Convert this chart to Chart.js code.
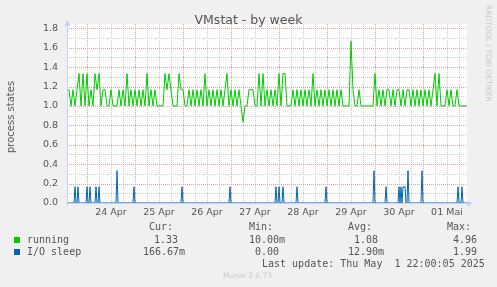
<!DOCTYPE html>
<html lang="de">
<head>
<meta charset="UTF-8" />
<title>VMstat - by week</title>
<script src="https://cdn.jsdelivr.net/npm/chart.js@4.4.1/dist/chart.umd.min.js"></script>
<style>
	body { margin:0; background:#f0f0f0; }
	#wrap { position:relative; width:497px; height:287px; overflow:hidden; }
	#wrap canvas { position:absolute; left:0; top:0; }
	.t { position:absolute; white-space:pre; color:#555555; font-family:'DejaVu Sans'; }
	.m { font-family:'DejaVu Sans Mono'; font-size:10px; line-height:12px; }
	.sq { position:absolute; width:6px; height:6px; }
</style>
</head>
<body>
<div id="wrap">
	<canvas id="vmstat" width="497" height="287"></canvas>
	<div class="t" style="left:0;top:12px;width:497px;text-align:center;font-size:12.5px;line-height:15px;">VMstat - by week</div>
	<div class="t" style="left:11px;top:117px;font-size:10px;line-height:12px;transform:translate(-50%,-50%) rotate(-90deg);">process states</div>
	<div class="t" style="left:484px;top:5px;font-size:7.5px;line-height:9px;color:#c8c8c8;writing-mode:vertical-rl;">RRDTOOL / TOBI OETIKER</div>

	<div class="t m" style="left:149px;top:221px;">Cur:</div>
	<div class="t m" style="left:249px;top:221px;">Min:</div>
	<div class="t m" style="left:348px;top:221px;">Avg:</div>
	<div class="t m" style="left:447px;top:221px;">Max:</div>

	<div class="sq" style="left:14px;top:237px;background:#00cc00;"></div>
	<div class="t m" style="left:27px;top:234px;">running</div>
	<div class="t m" style="left:154px;top:234px;">1.33</div>
	<div class="t m" style="left:249px;top:234px;">10.00m</div>
	<div class="t m" style="left:354px;top:234px;">1.08</div>
	<div class="t m" style="left:453px;top:234px;">4.96</div>

	<div class="sq" style="left:14px;top:249px;background:#0066b3;"></div>
	<div class="t m" style="left:27px;top:246px;">I/O sleep</div>
	<div class="t m" style="left:143px;top:246px;">166.67m</div>
	<div class="t m" style="left:255px;top:246px;">0.00</div>
	<div class="t m" style="left:348px;top:246px;">12.90m</div>
	<div class="t m" style="left:453px;top:246px;">1.99</div>

	<div class="t m" style="left:262px;top:258px;">Last update: Thu May  1 22:00:05 2025</div>
	<div class="t" style="left:223px;top:271px;font-size:7.5px;line-height:10px;color:#c8c8c8;">Munin 2.0.73</div>
</div>

<script>
	// hours since 23 Apr 14:00, one value per hour
	const runningValues = [
		1.167,1.167,1,1.167,1,1.167,1.333,1,1.333,1,
		1.333,1,1.167,1,1.333,1.167,1.333,1,1.167,1.167,
		1,1,1.167,1,1,1,1.167,1,1.167,1,
		1.333,1,1.167,1,1.167,1,1.167,1,1.167,1,
		1.333,1,1.167,1,1.167,1,1,1,1,1.333,
		1.167,1.333,1.167,1,1,1,1.333,1.167,1.167,1,
		1,1.167,1,1.167,1,1.167,1,1.167,1,1.333,
		1,1.167,1,1.167,1,1.167,1,1.167,1,1.167,
		1.333,1,1.167,1,1.167,1,1.167,1,0.833,1,
		1,1.167,1.167,1.167,1,1,1.333,1,1.333,1,
		1.167,1,1.167,1,1.167,1,1.333,1,1.333,1.333,
		1,1,1,1.167,1,1.167,1,1.167,1,1.167,
		1,1.167,1,1.333,1,1.167,1,1.167,1,1.167,
		1,1.167,1,1.167,1,1.167,1,1.167,1,1,
		1,1,1.667,1.167,1,1,1.167,1,1,1,
		1,1,1,1,1.333,1,1.167,1,1.167,1,
		1.167,1.167,1,1.167,1,1.167,1.167,1,1.167,1,
		1.167,1.167,1,1.167,1,1.167,1,1.167,1,1.167,
		1,1.167,1,1.167,1.333,1,1.333,1,1,1,
		1.167,1,1.167,1,1,1.167,1,1,1,1,
		1
	];

	// I/O sleep is mostly zero, so keep it as hour/value pairs
	const ioHours = [
		0,
		3.5,4,4.5, 5,5.5,6, 9.5,10,10.5, 11,11.5,12, 14,14.5,15, 15.5,16,16.5,
		24.5,25,25.5, 33,33.5,34, 57,57.5,58, 81,81.5,82,
		104,104.5,105, 105.5,106,106.5, 107.5,108,108.5, 114.5,115,115.5,
		129,129.5,130, 153,153.5,154, 159,159.5,160,
		165.5,166,166.5,167,167.5,168,169,169.5,
		170,170.5,171, 177,177.5,178, 195,195.5,196, 197,197.5,198,
		200
	];
	const ioValues = [
		0,
		0,0.167,0, 0,0.167,0, 0,0.167,0, 0,0.167,0, 0,0.167,0, 0,0.167,0,
		0,0.333,0, 0,0.167,0, 0,0.167,0, 0,0.167,0,
		0,0.167,0, 0,0.167,0, 0,0.167,0, 0,0.167,0,
		0,0.167,0, 0,0.333,0, 0,0.167,0,
		0,0.167,0,0.167,0,0.167,0.167,0,
		0,0.333,0, 0,0.333,0, 0,0.167,0, 0,0.167,0,
		0
	];

	// day labels sit at noon, midnight gets the red grid line
	const dayLabels = ['24 Apr','25 Apr','26 Apr','27 Apr','28 Apr','29 Apr','30 Apr','01 Mai'];
	const labelHours = [22,46,70,94,118,142,166,190];

	let gridHours = [];
	for (let h = 4; h < 200; h += 6) gridHours.push(h);
	let yTicks = [];
	for (let k = 0; k <= 18; k++) yTicks.push(k / 10);

	const majorColor = '#ea9a9a';
	const minorColor = '#cccccc';
	const axisColor = '#c9cff5';

	Chart.defaults.font.family = 'DejaVu Sans';

	// white canvas, dotted rrdtool grid, axes with arrows
	const muninLook = {
		id: 'muninLook',
		beforeDraw(chart) {
			const a = chart.chartArea, c = chart.ctx;
			c.save();
			c.fillStyle = '#ffffff';
			c.fillRect(a.left, a.top, a.right - a.left, a.bottom - a.top);
			c.restore();
		},
		beforeDatasetsDraw(chart) {
			const a = chart.chartArea, c = chart.ctx;
			const xs = chart.scales.x, ys = chart.scales.y;
			c.save();
			c.lineWidth = 1;
			c.setLineDash([1, 1]);
			gridHours.forEach(h => {
				if ((h - 10) % 24 === 0) return;
				const px = Math.round(xs.getPixelForValue(h)) + 0.5;
				c.strokeStyle = minorColor;
				c.beginPath();
				c.moveTo(px, a.top);
				c.lineTo(px, a.bottom);
				c.stroke();
			});
			yTicks.forEach((v, k) => {
				if (k % 2 === 0) return;
				const py = Math.round(ys.getPixelForValue(v)) + 0.5;
				c.strokeStyle = minorColor;
				c.beginPath();
				c.moveTo(a.left, py);
				c.lineTo(a.right, py);
				c.stroke();
			});
			// major lines go on top of the minor ones
			c.strokeStyle = majorColor;
			gridHours.forEach(h => {
				if ((h - 10) % 24 !== 0) return;
				const px = Math.round(xs.getPixelForValue(h)) + 0.5;
				c.beginPath();
				c.moveTo(px, a.top);
				c.lineTo(px, a.bottom);
				c.stroke();
			});
			yTicks.forEach((v, k) => {
				if (k === 0 || k % 2 !== 0) return;
				const py = Math.round(ys.getPixelForValue(v)) + 0.5;
				c.beginPath();
				c.moveTo(a.left, py);
				c.lineTo(a.right, py);
				c.stroke();
			});
			c.restore();
		},
		afterDraw(chart) {
			const a = chart.chartArea, c = chart.ctx;
			const x0 = a.left + 0.5, y0 = a.bottom + 0.5;
			c.save();
			c.strokeStyle = axisColor;
			c.fillStyle = axisColor;
			c.lineWidth = 1;
			c.beginPath();
			c.moveTo(x0, y0 + 2);
			c.lineTo(x0, a.top - 2);
			c.moveTo(x0 - 2, y0);
			c.lineTo(a.right + 2, y0);
			c.stroke();
			c.beginPath();
			c.moveTo(x0 - 3, a.top + 2);
			c.lineTo(x0 + 3, a.top + 2);
			c.lineTo(x0, a.top - 4);
			c.closePath();
			c.fill();
			c.beginPath();
			c.moveTo(a.right, y0 - 3);
			c.lineTo(a.right, y0 + 3);
			c.lineTo(a.right + 6, y0);
			c.closePath();
			c.fill();
			c.restore();
		}
	};

	let vmChart = new Chart(document.getElementById('vmstat'), {
		type: 'line',
		data: {
			datasets: [{
				label: 'running',
				data: runningValues.map((v, i) => ({x: i, y: v})),
				borderColor: '#00cc00',
				borderWidth: 1,
				pointRadius: 0,
				tension: 0
			}, {
				label: 'I/O sleep',
				data: ioHours.map((h, i) => ({x: h, y: ioValues[i]})),
				borderColor: '#0066b3',
				borderWidth: 1,
				pointRadius: 0,
				tension: 0
			}]
		},
		options: {
			responsive: false,
			animation: false,
			layout: {padding: {left: 0, right: 30, top: 24, bottom: 64}},
			plugins: {legend: {display: false}, tooltip: {enabled: false}, title: {display: false}},
			scales: {
				x: {
					type: 'linear', min: 0, max: 200,
					afterBuildTicks: s => { s.ticks = gridHours.map(v => ({value: v})); },
					afterFit: s => { s.height = 20; },
					ticks: {
						autoSkip: false, maxRotation: 0, padding: 4, color: '#555555',
						font: {size: 9.5},
						callback: v => { const i = labelHours.indexOf(v); return i < 0 ? '' : dayLabels[i]; }
					},
					grid: {display: false, drawTicks: false},
					border: {display: false}
				},
				y: {
					min: 0, max: 1.844,
					afterBuildTicks: s => { s.ticks = yTicks.map(v => ({value: v})); },
					afterFit: s => { s.width = 67; },
					ticks: {
						padding: 9, color: '#555555', font: {size: 9.5},
						callback: v => (Math.round(v * 10) % 2 === 0 ? v.toFixed(1) : '')
					},
					grid: {display: false, drawTicks: false},
					border: {display: false}
				}
			}
		},
		plugins: [muninLook]
	});
</script>
</body>
</html>
